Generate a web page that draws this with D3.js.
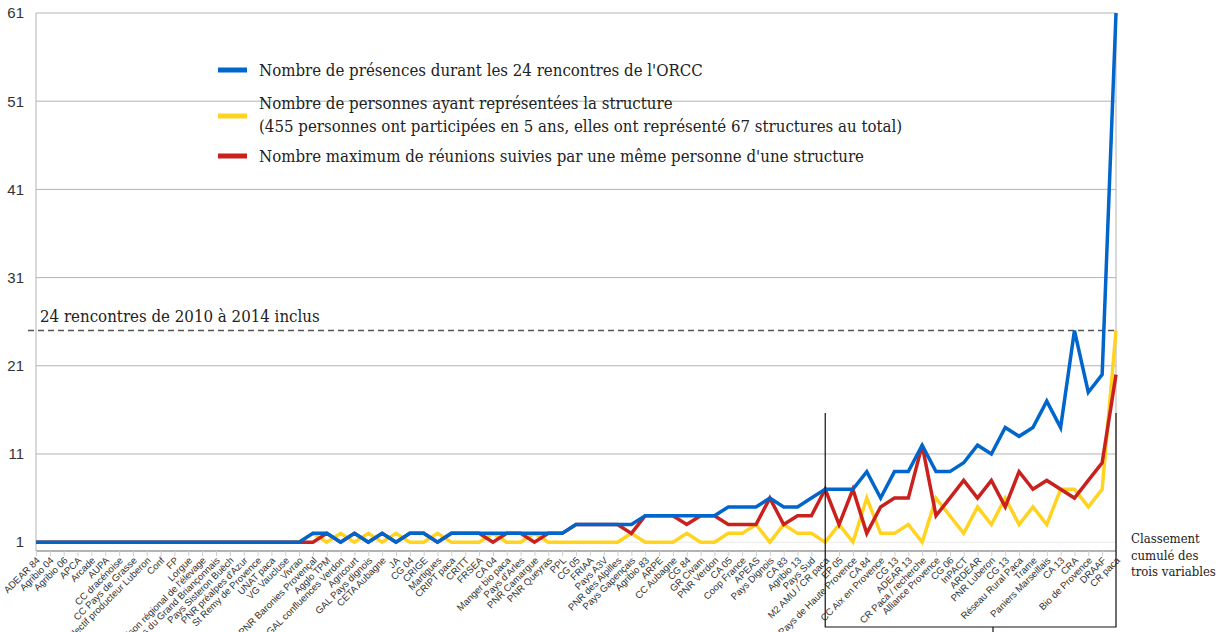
<!DOCTYPE html>
<html>
<head>
<meta charset="utf-8">
<script src="https://cdn.jsdelivr.net/npm/d3@7"></script>
<style>
  html, body { margin: 0; padding: 0; background: #fff; }
  svg { display: block; }
</style>
</head>
<body>
<svg id="chart" width="1229" height="632"></svg>
<script>
const categories = ["ADEAR 84","Agribio 04","Agribio 06","APCA","Arcade","AUPA","CC dracénoise","CC Pays de Grasse","Collectif producteur Luberon","Conf","FP","Lorgue","Maison régional de l'élevage","Pays du Grand Briançonnais","Pays Sisteron Buëch","PNR préalpes d'Azur","St Remy de Provence","UNAT paca","VG Vaucluse","Vivrao","PNR Baronies Provençal","Agglo TPM","GAL confluences Verdon","Agricourt","GAL Pays dignois","CETA Aubagne","JA","CG 04","CRIGE","Martigues","CRIPT paca","CRITT","FRSEA","CA 04","Manger bio paca","Pays d'Arles","PNR Camargue","PNR Queyras","PPL","CG 05","FRIAA","Pays A3V","PNR des Alpilles","Pays Gapençais","Agribio 83","ARPE","CC Aubagne","CG 84","GR Civam","PNR Verdon","CA 05","Coop France","APEAS","Pays Dignois","CA 83","Agribio 13","Pays Sud","M2 AMU / CR paca","EP 05","Pays de Haute Provence","CA 84","CC Aix en Provence","CG 13","ADEAR 13","CR Paca / recherche","Alliance Provence","CG 06","InPACT","ARDEAR","PNR Luberon","CG 13","Réseau Rural Paca","Trame","Paniers Marseillais","CA 13","CRA","Bio de Provence","DRAAF","CR paca"];

const presences = [1,1,1,1,1,1,1,1,1,1,1,1,1,1,1,1,1,1,1,1,
  2,2,1,2,1,2,1,2,2,1,
  2,2,2,2,2,2,2,2,2,
  3,3,3,3,3,
  4,4,4,4,4,4,
  5,5,5,6,5,5,6,
  7,7,7,9,6,9,9,12,9,9,10,12,11,14,13,14,17,14,25,18,20,61];

const personnes = [1,1,1,1,1,1,1,1,1,1,1,1,1,1,1,1,1,1,1,1,
  2,1,2,1,2,1,2,1,1,2,
  1,1,1,2,1,1,2,1,1,
  1,1,1,1,2,
  1,1,1,2,1,1,
  2,2,3,1,3,2,2,
  1,3,1,6,2,2,3,1,6,4,2,5,3,6,3,5,3,7,7,5,7,25];

const maxReunions = [1,1,1,1,1,1,1,1,1,1,1,1,1,1,1,1,1,1,1,1,
  1,2,1,2,1,2,1,2,2,1,
  2,2,2,1,2,2,1,2,2,
  3,3,3,3,2,
  4,4,4,3,4,4,
  3,3,3,6,3,4,4,
  7,3,7,2,5,6,6,12,4,6,8,6,8,5,9,7,8,7,6,8,10,20];

const yTicks = [1,11,21,31,41,51,61];
const seriesLabels = [
  ["Nombre de présences durant les 24 rencontres de l'ORCC"],
  ["Nombre de personnes ayant représentées la structure", "(455 personnes ont participées en 5 ans, elles ont représenté 67 structures au total)"],
  ["Nombre maximum de réunions suivies par une même personne d'une structure"]
];
const refValue = 25;
const refLabel = "24 rencontres de 2010 à 2014 inclus";
const noteLines = ["Classement", "cumulé  des", "trois variables"];

(function () {
const colors = { blue: "#0066cc", yellow: "#ffd320", red: "#c9211e" };

const svg = d3.select("#chart");
const mLeft = 36, mRight = 1116, mTop = 13, mBottom = 551;
const idx = d3.range(categories.length);
const x = d3.scalePoint().domain(idx).range([mLeft, mRight]);
const y = d3.scaleLinear().domain([0, 61]).range([mBottom, mTop]);

// gridlines
svg.append("g").selectAll("line").data(yTicks).join("line")
  .attr("x1", mLeft).attr("x2", mRight)
  .attr("y1", d => y(d)).attr("y2", d => y(d))
  .attr("stroke", d => d === 1 ? "#e8e8e8" : "#b3b3b3").attr("stroke-width", 1);

// axis lines
svg.append("line").attr("x1", mLeft).attr("x2", mLeft).attr("y1", mTop).attr("y2", mBottom)
  .attr("stroke", "#b3b3b3").attr("stroke-width", 1);
svg.append("line").attr("x1", mRight).attr("x2", mRight).attr("y1", mTop).attr("y2", mBottom)
  .attr("stroke", "#b3b3b3").attr("stroke-width", 1);

// y axis labels
const yAxis = d3.axisLeft(y).tickValues(yTicks).tickSize(0).tickPadding(12);
const gy = svg.append("g").attr("transform", `translate(${mLeft},0)`).call(yAxis);
gy.select(".domain").remove();
gy.selectAll("text").attr("font-family", "Liberation Sans, Arial, sans-serif")
  .attr("font-size", 15).attr("fill", "#333");

// x axis
const xAxis = d3.axisBottom(x).tickSize(5).tickFormat(i => categories[i]);
const gx = svg.append("g").attr("transform", `translate(0,${mBottom})`).call(xAxis);
gx.select(".domain").attr("stroke", "#b3b3b3").attr("stroke-width", 2)
  .attr("d", `M${mLeft},0H${mRight}`);
gx.selectAll(".tick line").attr("stroke", "#d0d0d0");
gx.selectAll(".tick text")
  .attr("font-family", "Liberation Sans, Arial, sans-serif")
  .attr("font-size", 9.6).attr("fill", "#333")
  .attr("text-anchor", "end")
  .attr("dy", null).attr("y", 0)
  .attr("transform", "translate(4,10) rotate(-45)");

// reference dashed line
svg.append("line").attr("x1", 28).attr("x2", mRight)
  .attr("y1", y(refValue)).attr("y2", y(refValue))
  .attr("stroke", "#555").attr("stroke-width", 1.3).attr("stroke-dasharray", "6,4");
const refT = svg.append("text").attr("x", 40).attr("y", y(refValue) - 9)
  .attr("font-family", "DejaVu Serif Condensed, Liberation Serif, serif")
  .attr("font-size", 16).attr("fill", "#222").text(refLabel);
{ const L = refT.node().getComputedTextLength(); refT.attr("font-size", 16 * 280 / L); }

// series lines (yellow bottom, red, blue top)
const line = d3.line().x((d, i) => x(i)).y(d => y(d));
[[personnes, colors.yellow], [maxReunions, colors.red], [presences, colors.blue]].forEach(([data, c]) => {
  svg.append("path").datum(data).attr("d", line).attr("fill", "none")
    .attr("stroke", c).attr("stroke-width", 3.5).attr("stroke-linejoin", "miter");
});

// legend
const legendFont = "DejaVu Serif Condensed, Liberation Serif, serif";
const legend = [
  { c: colors.blue, sy: 70, lines: seriesLabels[0], ys: [70] },
  { c: colors.yellow, sy: 116, lines: seriesLabels[1], ys: [103, 126] },
  { c: colors.red, sy: 156, lines: seriesLabels[2], ys: [156] }
];
const lg = svg.append("g");
const texts = [];
legend.forEach(e => {
  lg.append("line").attr("x1", 218).attr("x2", 247).attr("y1", e.sy).attr("y2", e.sy)
    .attr("stroke", e.c).attr("stroke-width", 5);
  e.lines.forEach((s, k) => {
    texts.push(lg.append("text").attr("x", 259).attr("y", e.ys[k]).attr("dy", "0.35em")
      .attr("font-family", legendFont).attr("font-size", 16).attr("fill", "#222").text(s));
  });
});
const longest = texts[2].node().getComputedTextLength();
const fs = 16 * 644 / longest;
texts.forEach(t => t.attr("font-size", fs));

// box around the top of the ranking
const bx1 = x(57), bx2 = x(78);
svg.append("path").attr("d", `M${bx1},413V627H${bx2}V413`).attr("fill", "none")
  .attr("stroke", "#111").attr("stroke-width", 1.2);
svg.append("line").attr("x1", 993).attr("x2", 993).attr("y1", 627).attr("y2", 632)
  .attr("stroke", "#111").attr("stroke-width", 1.2);

// note
const note = svg.append("text").attr("font-family", "DejaVu Serif Condensed, Liberation Serif, serif")
  .attr("font-size", 13).attr("fill", "#222");
noteLines.forEach((s, k) => {
  note.append("tspan").attr("x", 1131).attr("y", 543 + k * 16.5).text(s);
});
})();
</script>
</body>
</html>
